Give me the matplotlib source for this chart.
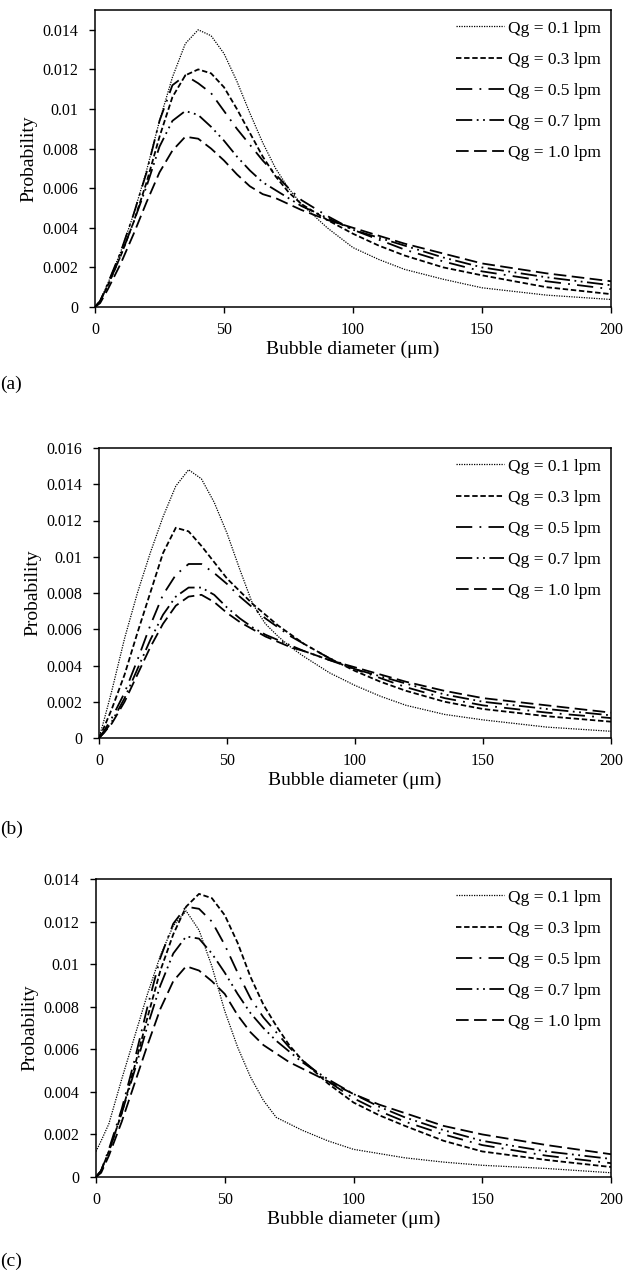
import matplotlib.pyplot as plt
import numpy as np

plt.rcParams['font.family'] = ['Liberation Serif', 'DejaVu Serif']

# bubble diameter (um) sample points
d = [0, 2, 5, 10, 15, 20, 25, 30, 35, 40, 45, 50, 55, 60, 65, 70, 75, 80,
     90, 100, 110, 120, 135, 150, 175, 200]

labels = ['Qg = 0.1 lpm', 'Qg = 0.3 lpm', 'Qg = 0.5 lpm', 'Qg = 0.7 lpm', 'Qg = 1.0 lpm']

# panel (a)
a_q01 = [0, 0.0003, 0.0012, 0.0028, 0.0047, 0.0069, 0.0094, 0.0116, 0.0133, 0.0140, 0.0137, 0.0128, 0.0114,
         0.0098, 0.0083, 0.0070, 0.0060, 0.0052, 0.0040, 0.0030, 0.0024, 0.0019, 0.0014, 0.00097, 0.0006, 0.00038]
a_q03 = [0, 0.0003, 0.0011, 0.0026, 0.0043, 0.0063, 0.0086, 0.0106, 0.0117, 0.0120, 0.0118, 0.0111, 0.0100,
         0.0088, 0.0076, 0.0066, 0.0058, 0.0052, 0.0044, 0.0037, 0.0031, 0.0026, 0.0020, 0.0016, 0.0010, 0.00065]
a_q05 = [0, 0.0003, 0.0012, 0.0028, 0.0047, 0.0068, 0.0094, 0.0112, 0.0117, 0.0113, 0.0108, 0.0099, 0.0090,
         0.0082, 0.0074, 0.0067, 0.0060, 0.0054, 0.0046, 0.0039, 0.0034, 0.0029, 0.0023, 0.0018, 0.0013, 0.0009]
a_q07 = [0, 0.0003, 0.0011, 0.0026, 0.0043, 0.0061, 0.0081, 0.0094, 0.0099, 0.0097, 0.0091, 0.0084, 0.0076,
         0.0069, 0.0063, 0.0059, 0.0055, 0.0051, 0.0045, 0.0039, 0.0035, 0.0031, 0.0025, 0.0020, 0.0015, 0.0011]
a_q10 = [0, 0.0002, 0.0009, 0.0022, 0.0037, 0.0053, 0.0068, 0.0079, 0.0086, 0.0085, 0.0080, 0.0074, 0.0067,
         0.0061, 0.0057, 0.0055, 0.0052, 0.0049, 0.0044, 0.0040, 0.0036, 0.0032, 0.0027, 0.0022, 0.0017, 0.0013]

# panel (b)
b_q01 = [0, 0.0010, 0.0026, 0.0055, 0.0080, 0.0102, 0.0122, 0.0139, 0.0148, 0.0143, 0.0130, 0.0113, 0.0093,
         0.0074, 0.0063, 0.0056, 0.0050, 0.0045, 0.0036, 0.0029, 0.0023, 0.0018, 0.0013, 0.0010, 0.0006, 0.00037]
b_q03 = [0, 0.0006, 0.0016, 0.0035, 0.0058, 0.0080, 0.0102, 0.0116, 0.0114, 0.0106, 0.0097, 0.0088, 0.0081,
         0.0074, 0.0068, 0.0062, 0.0057, 0.0052, 0.0044, 0.0037, 0.0031, 0.0026, 0.0020, 0.0016, 0.0012, 0.0009]
b_q05 = [0, 0.0004, 0.0011, 0.0025, 0.0043, 0.0062, 0.0079, 0.0090, 0.0096, 0.0096, 0.0091, 0.0085, 0.0078,
         0.0072, 0.0066, 0.0061, 0.0056, 0.0052, 0.0044, 0.0038, 0.0033, 0.0028, 0.0022, 0.0018, 0.0014, 0.0011]
b_q07 = [0, 0.0003, 0.0009, 0.0022, 0.0038, 0.0054, 0.0068, 0.0078, 0.0083, 0.0083, 0.0079, 0.0072, 0.0066,
         0.0061, 0.0057, 0.0054, 0.0051, 0.0048, 0.0043, 0.0038, 0.0034, 0.0030, 0.0024, 0.0020, 0.0016, 0.00125]
b_q10 = [0, 0.0003, 0.0008, 0.0020, 0.0035, 0.0050, 0.0063, 0.0073, 0.0078, 0.0079, 0.0075, 0.0069, 0.0064,
         0.0060, 0.0056, 0.0053, 0.0050, 0.0048, 0.0043, 0.0039, 0.0035, 0.0031, 0.0026, 0.0022, 0.0018, 0.0014]

# panel (c)
c_q01 = [0.0012, 0.0017, 0.0025, 0.0046, 0.0066, 0.0086, 0.0104, 0.0118, 0.0125, 0.0116, 0.0099, 0.0078, 0.0061,
         0.0047, 0.0036, 0.0028, 0.0025, 0.0022, 0.0017, 0.0013, 0.0011, 0.0009, 0.0007, 0.00055, 0.0004, 0.0002]
c_q03 = [0, 0.0003, 0.0012, 0.0030, 0.0052, 0.0075, 0.0097, 0.0114, 0.0127, 0.0133, 0.0131, 0.0123, 0.0110,
         0.0094, 0.0081, 0.0071, 0.0062, 0.0055, 0.0044, 0.0035, 0.0029, 0.0024, 0.0017, 0.0012, 0.0008, 0.00047]
c_q05 = [0, 0.0003, 0.0013, 0.0032, 0.0055, 0.0080, 0.0103, 0.0119, 0.0127, 0.0126, 0.0120, 0.0109, 0.0096,
         0.0084, 0.0075, 0.0068, 0.0061, 0.0055, 0.0045, 0.0037, 0.0031, 0.0026, 0.0020, 0.0015, 0.0010, 0.00065]
c_q07 = [0, 0.0003, 0.0012, 0.0030, 0.0050, 0.0071, 0.0090, 0.0105, 0.0113, 0.0112, 0.0105, 0.0096, 0.0086,
         0.0077, 0.0070, 0.0064, 0.0059, 0.0054, 0.0046, 0.0039, 0.0033, 0.0028, 0.0022, 0.0017, 0.0012, 0.00085]
c_q10 = [0, 0.0002, 0.0010, 0.0026, 0.0044, 0.0062, 0.0079, 0.0092, 0.0099, 0.0097, 0.0092, 0.0086, 0.0076,
         0.0068, 0.0062, 0.0058, 0.0054, 0.0051, 0.0045, 0.0039, 0.0034, 0.0030, 0.0024, 0.0020, 0.0015, 0.00107]

panels = [
    ('(a)', [a_q01, a_q03, a_q05, a_q07, a_q10], 0.015),
    ('(b)', [b_q01, b_q03, b_q05, b_q07, b_q10], 0.016),
    ('(c)', [c_q01, c_q03, c_q05, c_q07, c_q10], 0.014),
]

styles = [
    dict(ls=(0, (1, 1)), lw=0.9),
    dict(ls=(0, (3, 1.5)), lw=1.3),
    dict(ls=(0, (9, 4, 1, 4)), lw=1.3),
    dict(ls=(0, (9, 2.5, 1, 2.5, 1, 2.5)), lw=1.3),
    dict(ls=(0, (7, 3)), lw=1.3),
]

W, H = 635, 1285
fig = plt.figure(figsize=(W / 100, H / 100), dpi=100)

# axes boxes in pixels: left, top, right, bottom
boxes = [(95, 10, 611, 307), (99, 448, 611, 738), (96, 879, 611, 1177)]
tag_y = [384, 829, 1261]

for (tag, series, ytop), (l, t, r, b), ty in zip(panels, boxes, tag_y):
    ax = fig.add_axes([l / W, 1 - b / H, (r - l) / W, (b - t) / H])
    for y, lab, st in zip(series, labels, styles):
        ax.plot(d, y, color='black', label=lab, **st)
    ax.set_xlim(0, 200)
    ax.set_ylim(0, ytop)
    ax.set_xticks([0, 50, 100, 150, 200])
    yt = np.arange(0, ytop + 1e-9, 0.002)
    ax.set_yticks(yt)
    ax.set_yticklabels(['0' if v == 0 else f'{v:.3f}'.rstrip('0') for v in yt])
    ax.tick_params(direction='out', length=4, width=1, labelsize=11.5)
    ax.tick_params(axis='x', pad=6.5)
    ax.tick_params(axis='y', pad=8)
    for s in ax.spines.values():
        s.set_linewidth(1.1)
    ax.set_xlabel('Bubble diameter (\u03bcm)', fontsize=14, labelpad=2)
    ax.set_ylabel('Probability', fontsize=14, labelpad=4)
    ax.legend(loc='upper right', frameon=False, fontsize=12.5, handlelength=2.8,
              handletextpad=0.2, labelspacing=0.86, borderaxespad=0.2)
    fig.text(0.0, 1 - ty / H, tag, fontsize=14, va='center', ha='left')

fig.savefig('out.png', dpi=100)
